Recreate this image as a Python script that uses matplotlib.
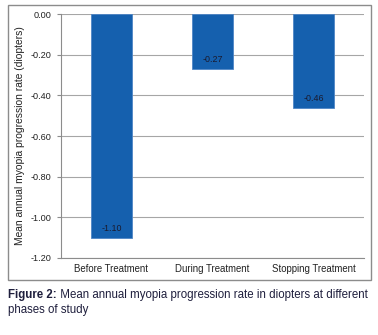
import matplotlib.pyplot as plt
from matplotlib.patches import Rectangle

# data
phases = ["Before Treatment", "During Treatment", "Stopping Treatment"]
rates = [-1.10, -0.27, -0.46]
y_ticks = [0.0, -0.2, -0.4, -0.6, -0.8, -1.0, -1.2]

plt.rcParams['font.family'] = ['Liberation Sans', 'DejaVu Sans']

fig = plt.figure(figsize=(3.78, 3.35), dpi=100)
ax = fig.add_axes([0.161, 0.230, 0.802, 0.728])

# outer frame of the chart
fig.patches.append(Rectangle((0.021, 0.164), 0.960, 0.821, transform=fig.transFigure,
                             fill=False, edgecolor='#8c8c8c', linewidth=1.0))

x = range(len(phases))
ax.bar(x, rates, width=0.4, color='#1560ae', edgecolor='#4f86c6', linewidth=0.6, zorder=3)

for xi, v in zip(x, rates):
    ax.annotate(f"{v:.2f}", (xi, v), xytext=(0, 3.5), textcoords='offset points',
                ha='center', va='bottom', fontsize=6.4, color='#1a1a2e', zorder=4)

ax.set_xlim(-0.5, len(phases) - 0.5)
ax.set_ylim(-1.2, 0.0)
ax.set_yticks(y_ticks)
ax.set_yticklabels([f"{t:.2f}" for t in y_ticks], fontsize=6.6, color='#222222')
ax.set_xticks(list(x))
ax.set_xticklabels(phases, fontsize=6.9, color='#222222')
ax.tick_params(axis='x', length=0, pad=4)
ax.tick_params(axis='y', length=3, width=0.8, color='#8c8c8c', pad=4)

ax.yaxis.grid(True, color='#a6a6a6', linewidth=0.8, zorder=0)
ax.set_axisbelow(True)
for s in ['top', 'right']:
    ax.spines[s].set_visible(False)
for s in ['left', 'bottom']:
    ax.spines[s].set_color('#8c8c8c')
    ax.spines[s].set_linewidth(0.8)

ax.set_ylabel("Mean annual myopia progression rate (diopters)", fontsize=7.4,
              color='#222222', labelpad=4)

# caption
cap_color = '#1f1f3d'
t1 = fig.text(0.021, 0.101, "Figure 2:", fontsize=8.3, fontweight='bold',
              color=cap_color, va='bottom')
ax.annotate(" Mean annual myopia progression rate in diopters at different",
            xy=(1, 0), xycoords=t1, va='bottom', ha='left', fontsize=8.3,
            color=cap_color, annotation_clip=False)
fig.text(0.021, 0.057, "phases of study", fontsize=8.3, color=cap_color, va='bottom')

plt.savefig("out.png", dpi=100)
plt.close()
